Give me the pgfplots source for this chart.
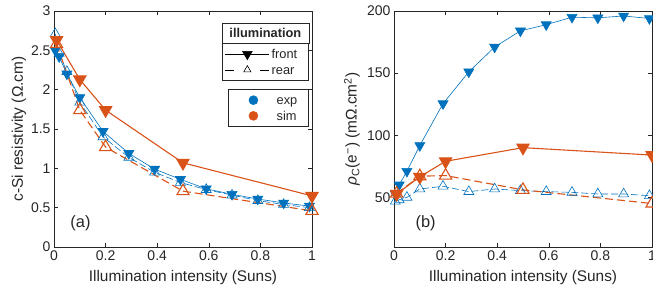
\documentclass[border=0pt]{standalone}
\usepackage{pgfplots}
\pgfplotsset{compat=1.18}
\usepackage{fontspec}
\setmainfont{Liberation Sans}
\usetikzlibrary{calc}
\definecolor{mblue}{HTML}{0072BD}
\definecolor{morange}{HTML}{D95319}
\definecolor{mgray}{HTML}{262626}
\pgfplotsset{
  base/.style={
    scale only axis, width=258pt, height=236pt,
    xmin=0, xmax=1, xtick={0,0.2,0.4,0.6,0.8,1},
    axis line style={mgray, line width=0.5pt},
    tick style={mgray, line width=0.5pt},
    tick align=inside, major tick length=4pt,
    clip=false,
    /pgf/number format/assume math mode=true,
    tick label style={font=\fontsize{14}{16}\selectfont, text=mgray},
    label style={font=\fontsize{15.4}{18}\selectfont, text=mgray},
    xlabel style={at={(axis description cs:0.5,-0.13)}, anchor=center},
    scaled ticks=false,
  },
  bfront/.style={mblue, line width=0.6pt, mark=triangle*, mark size=5.8pt, mark options={rotate=180, solid}},
  brear/.style={mblue, line width=0.6pt, dash pattern=on 7pt off 3pt, mark=triangle, mark size=5.8pt, mark options={solid}},
  rfront/.style={morange, line width=1.1pt, mark=triangle*, mark size=7pt, mark options={rotate=180, solid}},
  rrear/.style={morange, line width=1.1pt, dash pattern=on 8pt off 4pt, mark=triangle, mark size=7pt, mark options={solid}},
  legbase/.style={
    legend style={draw=mgray, line width=0.5pt, fill=white, text=mgray,
      font=\fontsize{12.8}{14.5}\selectfont, inner xsep=2pt, inner ysep=3pt,
      nodes={inner sep=2pt}, column sep=0pt, row sep=0pt, anchor=north east},
    legend cell align=left,
  },
}
\begin{document}
\begin{tikzpicture}
% ---------- left panel ----------
\begin{axis}[base, legbase,
  ymin=0, ymax=3, ytick={0,0.5,1,1.5,2,2.5,3},
  xlabel={Illumination intensity (Suns)},
  ylabel={c-Si resistivity (Ω.cm)},
  ylabel style={at={(axis description cs:-0.136,0.5)}, anchor=center},
  legend style={at={(0.988,0.864)}, name=legA},
  legend image code/.code={
    \draw[#1, mark=none] (1pt,0pt) -- (45pt,0pt);
    \draw[#1, draw=none] plot coordinates {(23pt,0pt)};
    \path (0pt,0pt) (45pt,0pt);
  },
]
\addplot[bfront, forget plot] table {
0.005 2.50
0.02 2.42
0.05 2.20
0.10 1.90
0.19 1.47
0.29 1.19
0.39 0.99
0.49 0.86
0.59 0.74
0.69 0.67
0.79 0.61
0.89 0.56
0.99 0.52
};
\addplot[brear, forget plot] table {
0.005 2.71
0.02 2.46
0.05 2.23
0.10 1.84
0.19 1.40
0.29 1.14
0.39 0.95
0.49 0.82
0.59 0.73
0.69 0.66
0.79 0.59
0.89 0.54
0.99 0.50
};
\addplot[rfront, forget plot] table {
0.01 2.63
0.10 2.13
0.20 1.74
0.50 1.07
1.00 0.65
};
\addplot[rrear, forget plot] table {
0.01 2.58
0.10 1.74
0.20 1.27
0.50 0.71
1.00 0.46
};
\addlegendimage{black, line width=0.6pt, mark=triangle*, mark size=5.5pt, mark options={rotate=180, solid}}
\addlegendentry{\makebox[33pt][l]{\strut front}}
\addlegendimage{black, line width=0.6pt, dash pattern=on 9pt off 26pt, mark=triangle, mark size=4.2pt, mark options={solid}}
\addlegendentry{\makebox[33pt][l]{\strut rear}}
\node[anchor=west, font=\fontsize{16.4}{18}\selectfont, text=mgray] at (axis cs:0.05,0.3) {(a)};
\end{axis}
% second legend overlay
\begin{axis}[scale only axis, width=258pt, height=236pt, hide axis,
  xmin=0, xmax=1, ymin=0, ymax=1, legbase,
  legend style={at={(0.988,0.669)}},
  legend image code/.code={
    \draw[#1, draw=none] plot coordinates {(23pt,0pt)};
    \path (0pt,0pt) (44pt,0pt);
  },
]
\addlegendimage{only marks, mark=*, mark size=4.5pt, mark options={draw=mblue, fill=mblue}}
\addlegendentry{\makebox[28pt][l]{\strut exp}}
\addlegendimage{only marks, mark=*, mark size=4.5pt, mark options={draw=morange, fill=morange}}
\addlegendentry{\makebox[28pt][l]{\strut sim}}
\end{axis}
\path let \p1=(legA.north west), \p2=(legA.north east) in
  node[draw=mgray, line width=0.5pt, fill=white, anchor=south, minimum width={\x2-\x1}, minimum height=20pt,
       inner sep=0pt, font=\bfseries\fontsize{12.8}{14.5}\selectfont, text=mgray]
  at ($(legA.north west)!0.5!(legA.north east)$) {illumination};
% ---------- right panel ----------
\begin{axis}[base, at={(340pt,0pt)}, anchor=south west,
  ymin=10, ymax=200, ytick={50,100,150,200},
  xlabel={Illumination intensity (Suns)},
  ylabel={{\itshape ρ}\textsubscript{C}(e\textsuperscript{−}) (mΩ.cm\textsuperscript{2})},
  ylabel style={at={(axis description cs:-0.163,0.5)}, anchor=center},
]
\addplot[bfront] table {
0.005 52.7
0.02 60
0.05 71
0.10 91.7
0.19 125.4
0.29 151
0.39 171
0.49 184
0.59 189
0.69 195
0.79 194.5
0.89 196
0.99 194
};
\addplot[brear] table {
0.005 46.8
0.02 48
0.05 50
0.10 56.7
0.19 58.9
0.29 54.6
0.39 56.7
0.49 55.4
0.59 54.6
0.69 54.0
0.79 52.7
0.89 52.7
0.99 51.3
};
\addplot[rfront] table {
0.01 52.7
0.10 66.5
0.20 79
0.50 90
1.00 84
};
\addplot[rrear] table {
0.01 53
0.10 67
0.20 67.5
0.50 56
1.00 45
};
\node[anchor=west, font=\fontsize{16.4}{18}\selectfont, text=mgray] at (axis cs:0.07,29) {(b)};
\end{axis}
\pgfresetboundingbox
\path (-54pt,-46pt) rectangle (599pt,247pt);
\end{tikzpicture}
\end{document}
